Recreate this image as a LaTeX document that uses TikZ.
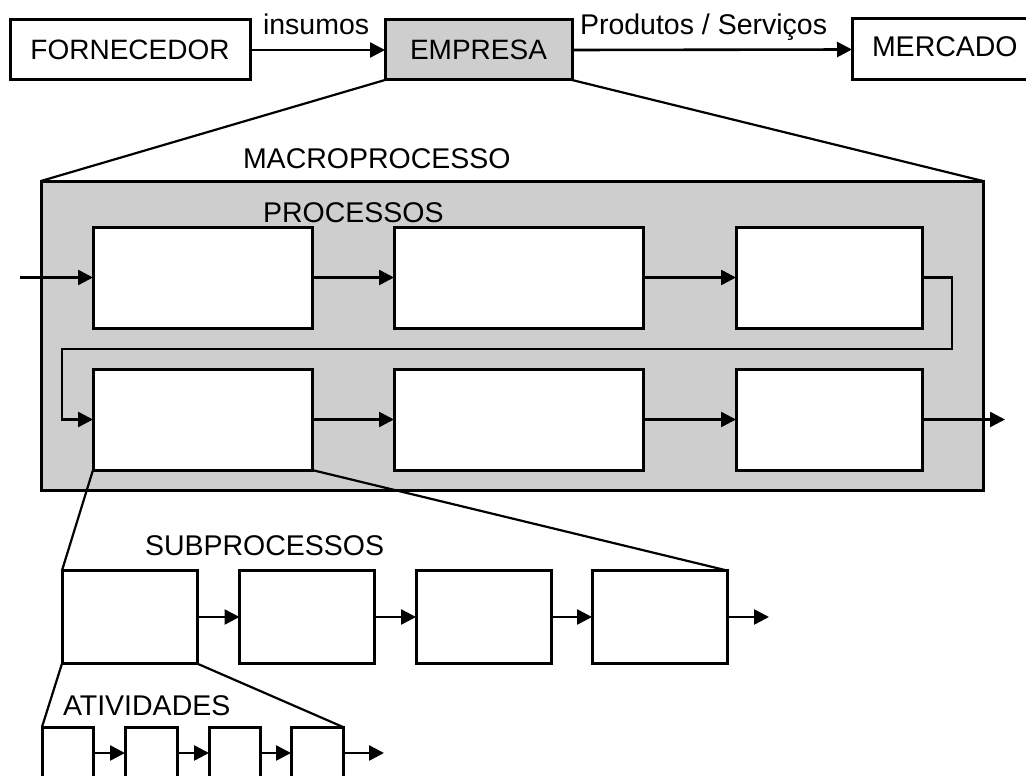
\documentclass[tikz,border=0pt]{standalone}
\usepackage{fontspec}
\setmainfont{Liberation Sans}
\usetikzlibrary{arrows.meta}
\definecolor{boxgray}{RGB}{206,206,206}
\begin{document}
\begin{tikzpicture}[x=1pt,y=-1pt,
  box/.style={draw=black,line width=3pt,fill=white,inner sep=0pt,outer sep=0pt,
    font=\fontsize{28}{30}\selectfont},
  graybox/.style={box,fill=boxgray},
  lbl/.style={inner sep=0pt,outer sep=0pt,anchor=base west,font=\fontsize{28.5}{30}\selectfont},
  arr/.style={line width=2.6pt,-{Triangle[length=15pt,width=15pt]}},
  zline/.style={line width=2.2pt}]
\useasboundingbox (0,0) rectangle (1026,776);
\clip (0,0) rectangle (1026,776);
\fill[white] (0,0) rectangle (1026,776);
% top row
\node[box,minimum width=240pt,minimum height=60pt] (forn) at (130,50) {FORNECEDOR};
\node[graybox,minimum width=187pt,minimum height=60pt] (emp) at (478.5,50) {EMPRESA};
\node[box,minimum width=180pt,minimum height=61pt,anchor=west] (merc) at (852,49.5) {};
\node[lbl] (mercl) at (872,57) {MERCADO};
\node[lbl] (ins) at (263,35) {insumos};
\node[lbl] (prod) at (580,35) {Produtos / Serviços};
\draw[arr] (forn.east) -- (emp.west);
\draw[arr] (emp.east) -- (merc.west);
% macro
\node[graybox,minimum width=942pt,minimum height=309pt] (macro) at (512,335.5) {};
\node[lbl] (macrol) at (243,168) {MACROPROCESSO};
\node[lbl] (procl) at (263,222) {PROCESSOS};
\draw[zline] (emp.south west) -- (macro.north west);
\draw[zline] (emp.south east) -- (macro.north east);
% processes
\node[box,minimum width=219pt,minimum height=101pt] (p1) at (202.5,277.5) {};
\node[box,minimum width=249pt,minimum height=101pt] (p2) at (518.5,277.5) {};
\node[box,minimum width=186pt,minimum height=101pt] (p3) at (829,277.5) {};
\node[box,minimum width=219pt,minimum height=101pt] (p4) at (202.5,419.5) {};
\node[box,minimum width=249pt,minimum height=101pt] (p5) at (518.5,419.5) {};
\node[box,minimum width=186pt,minimum height=101pt] (p6) at (829,419.5) {};
\coordinate (in) at (20,277.5);
\coordinate (loopA) at (952,349);
\coordinate (loopB) at (62,349);
\coordinate (out) at (1005,419.5);
\draw[arr] (in) -- (p1.west);
\draw[arr] (p1.east) -- (p2.west);
\draw[arr] (p2.east) -- (p3.west);
\draw[arr] (p3.east) -| (loopA) -- (loopB) |- (p4.west);
\draw[arr] (p4.east) -- (p5.west);
\draw[arr] (p5.east) -- (p6.west);
\draw[arr] (p6.east) -- (out);
% subprocesses
\node[lbl] (subl) at (145,555) {SUBPROCESSOS};
\node[box,minimum width=135pt,minimum height=93pt] (s1) at (129.5,617) {};
\node[box,minimum width=135pt,minimum height=93pt] (s2) at (307,617) {};
\node[box,minimum width=135pt,minimum height=93pt] (s3) at (483.5,617) {};
\node[box,minimum width=135pt,minimum height=93pt] (s4) at (659.5,617) {};
\coordinate (sout) at (769,617);
\draw[zline] (p4.south west) -- (s1.north west);
\draw[zline] (p4.south east) -- (s4.north east);
\draw[arr] (s1.east) -- (s2.west);
\draw[arr] (s2.east) -- (s3.west);
\draw[arr] (s3.east) -- (s4.west);
\draw[arr] (s4.east) -- (sout);
% activities
\node[lbl] (atl) at (63,715) {ATIVIDADES};
\node[box,minimum width=51pt,minimum height=52pt] (a1) at (67.5,753) {};
\node[box,minimum width=52pt,minimum height=52pt] (a2) at (151,753) {};
\node[box,minimum width=51pt,minimum height=52pt] (a3) at (234.5,753) {};
\node[box,minimum width=52pt,minimum height=52pt] (a4) at (317,753) {};
\coordinate (aout) at (384,753);
\draw[zline] (s1.south west) -- (a1.north west);
\draw[zline] (s1.south east) -- (a4.north east);
\draw[arr] (a1.east) -- (a2.west);
\draw[arr] (a2.east) -- (a3.west);
\draw[arr] (a3.east) -- (a4.west);
\draw[arr] (a4.east) -- (aout);
\end{tikzpicture}
\end{document}
